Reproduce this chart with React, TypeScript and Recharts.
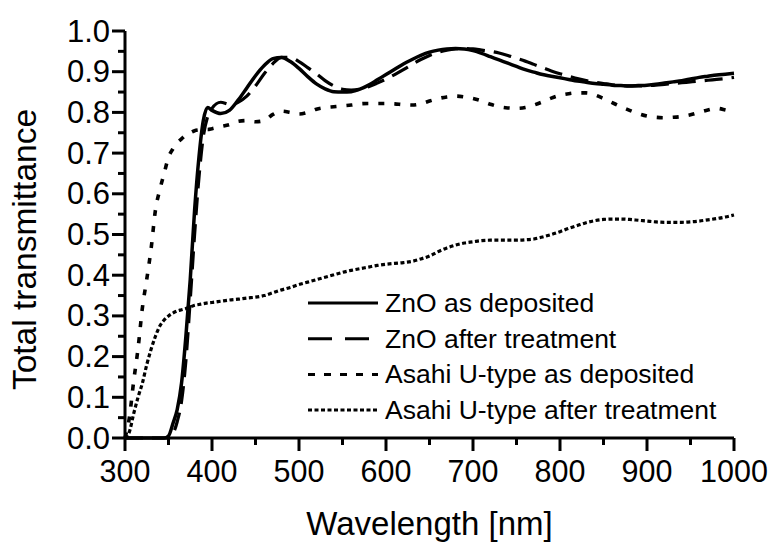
import { LineChart, Line, XAxis, YAxis, Legend, Label } from 'recharts'

// wavelength grid (nm)
const wavelength = [
  300, 305, 310, 315, 320, 325, 330, 335, 340, 345, 350, 355, 360, 365, 370, 375, 380, 385, 390, 395, 400,
  410, 420, 430, 440, 450, 460, 470, 480, 490, 500, 510, 520, 530, 540, 550, 560, 570, 580, 590, 600,
  610, 620, 630, 640, 650, 660, 670, 680, 690, 700, 710, 720, 730, 740, 750, 760, 770, 780, 790, 800,
  810, 820, 830, 840, 850, 860, 870, 880, 890, 900, 910, 920, 930, 940, 950, 960, 970, 980, 990, 1000,
]

const znoDeposited = [
  0, 0, 0, 0, 0, 0, 0, 0, 0, 0, 0.005, 0.035, 0.07, 0.135, 0.25, 0.39, 0.56, 0.69, 0.78, 0.812, 0.805,
  0.797, 0.805, 0.83, 0.86, 0.89, 0.915, 0.932, 0.935, 0.925, 0.908, 0.888, 0.87, 0.858, 0.851, 0.85, 0.851, 0.857, 0.867, 0.88, 0.893,
  0.906, 0.919, 0.93, 0.94, 0.948, 0.953, 0.956, 0.957, 0.956, 0.952, 0.945, 0.937, 0.929, 0.921, 0.913, 0.905, 0.899, 0.893, 0.889, 0.885,
  0.881, 0.877, 0.874, 0.871, 0.869, 0.867, 0.866, 0.865, 0.866, 0.867, 0.869, 0.872, 0.875, 0.878, 0.882, 0.886, 0.889, 0.892, 0.894, 0.896,
]

const znoTreated = [
  0, 0, 0, 0, 0, 0, 0, 0, 0, 0, 0, 0.01, 0.04, 0.09, 0.19, 0.34, 0.5, 0.64, 0.74, 0.79, 0.81,
  0.825, 0.82, 0.825, 0.84, 0.865, 0.895, 0.92, 0.935, 0.935, 0.925, 0.91, 0.895, 0.878, 0.865, 0.857, 0.855, 0.857, 0.863, 0.872, 0.882,
  0.893, 0.905, 0.918, 0.93, 0.94, 0.948, 0.953, 0.956, 0.957, 0.956, 0.953, 0.95, 0.946, 0.94, 0.933, 0.926, 0.918, 0.91, 0.902, 0.895,
  0.889, 0.883, 0.878, 0.874, 0.871, 0.868, 0.866, 0.865, 0.865, 0.866, 0.867, 0.869, 0.871, 0.873, 0.875, 0.877, 0.879, 0.881, 0.883, 0.886,
]

const asahiDeposited = [
  0, 0.05, 0.14, 0.22, 0.32, 0.39, 0.465, 0.56, 0.61, 0.65, 0.69, 0.71, 0.725, 0.735, 0.745, 0.75, 0.755, 0.757, 0.758, 0.758, 0.76,
  0.765, 0.77, 0.778, 0.78, 0.777, 0.78, 0.795, 0.803, 0.8, 0.796, 0.8, 0.808, 0.812, 0.814, 0.816, 0.818, 0.821, 0.822, 0.822, 0.822,
  0.821, 0.819, 0.818, 0.821, 0.828, 0.834, 0.838, 0.84, 0.838, 0.834, 0.828, 0.82, 0.814, 0.811, 0.81, 0.812, 0.818, 0.826, 0.835, 0.842,
  0.846, 0.848, 0.848, 0.843, 0.834, 0.824, 0.814, 0.805, 0.797, 0.791, 0.788, 0.787, 0.788, 0.79, 0.794, 0.8, 0.806, 0.81, 0.806, 0.8,
]

const asahiTreated = [
  0, 0.015, 0.06, 0.1, 0.135, 0.18, 0.218, 0.25, 0.275, 0.29, 0.3, 0.307, 0.312, 0.315, 0.318, 0.322, 0.326, 0.328, 0.33, 0.332, 0.333,
  0.336, 0.339, 0.341, 0.344, 0.346, 0.35, 0.357, 0.364, 0.37, 0.377, 0.383, 0.389, 0.395, 0.401, 0.407, 0.412, 0.416, 0.42, 0.424, 0.427,
  0.429, 0.431, 0.434, 0.44, 0.447, 0.458, 0.467, 0.474, 0.479, 0.482, 0.485, 0.486, 0.486, 0.486, 0.486, 0.487, 0.489, 0.494, 0.5, 0.507,
  0.515, 0.522, 0.529, 0.534, 0.537, 0.538, 0.538, 0.537, 0.535, 0.533, 0.531, 0.53, 0.53, 0.53, 0.531, 0.533, 0.536, 0.539, 0.543, 0.548,
]

const xTicks = [300, 350, 400, 450, 500, 550, 600, 650, 700, 750, 800, 850, 900, 950, 1000]
const yTicks = [
  0, 0.05, 0.1, 0.15, 0.2, 0.25, 0.3, 0.35, 0.4, 0.45, 0.5, 0.55, 0.6, 0.65, 0.7, 0.75, 0.8, 0.85, 0.9, 0.95, 1,
]

const series = [
  { key: 'znoDep', name: 'ZnO as deposited', dash: undefined, width: 3.5, legendDash: undefined },
  { key: 'znoTr', name: 'ZnO after treatment', dash: '18 9', width: 3.2, legendDash: '24 13' },
  { key: 'asDep', name: 'Asahi U-type as deposited', dash: '6 10', width: 3.6, legendDash: '7 9' },
  { key: 'asTr', name: 'Asahi U-type after treatment', dash: '4 2.5', width: 3.2, legendDash: '4 2.5' },
]

const data = wavelength.map((w, i) => ({
  w,
  znoDep: znoDeposited[i],
  znoTr: znoTreated[i],
  asDep: asahiDeposited[i],
  asTr: asahiTreated[i],
}))

const FONT = '"Liberation Sans", Arial, Helvetica, sans-serif'

const isMajorX = (v: number) => v % 100 === 0
const isMajorY = (v: number) => Math.round(v * 100) % 10 === 0

function BottomTick({ x, y, payload }: any) {
  const major = isMajorX(payload.value)
  return (
    <g>
      <line x1={x} x2={x} y1={y} y2={y + (major ? 13 : 7)} stroke="#000" strokeWidth={3} />
      {major && (
        <text x={x} y={y + 44} textAnchor="middle" fontSize={30.5} fontFamily={FONT} fill="#000">
          {payload.value}
        </text>
      )}
    </g>
  )
}

function TopTick({ x, y, payload }: any) {
  const major = isMajorX(payload.value)
  return <line x1={x} x2={x} y1={y} y2={y + (major ? 12 : 6)} stroke="#000" strokeWidth={3} />
}

function LeftTick({ x, y, payload }: any) {
  const major = isMajorY(payload.value)
  return (
    <g>
      <line x1={x} x2={x - (major ? 13 : 7)} y1={y} y2={y} stroke="#000" strokeWidth={3} />
      {major && (
        <text x={x - 15} y={y} textAnchor="end" dominantBaseline="central" fontSize={31} fontFamily={FONT} fill="#000">
          {payload.value.toFixed(1)}
        </text>
      )}
    </g>
  )
}

function RightTick({ x, y, payload }: any) {
  const major = isMajorY(payload.value)
  return <line x1={x} x2={x - (major ? 12 : 7)} y1={y} y2={y} stroke="#000" strokeWidth={3} />
}

function YTitle({ viewBox }: any) {
  const cx = viewBox.x + 24
  const cy = viewBox.y + viewBox.height / 2 + 15
  return (
    <text
      transform={`translate(${cx},${cy}) rotate(-90)`}
      textAnchor="middle"
      dominantBaseline="central"
      fontSize={33.5}
      fontFamily={FONT}
      fill="#000"
    >
      Total transmittance
    </text>
  )
}

function LegendBox() {
  return (
    <svg width={460} height={150} style={{ display: 'block' }}>
      {series.map((s, i) => {
        const cy = 23 + i * 35.7
        return (
          <g key={s.key}>
            <line x1={8} x2={78} y1={cy} y2={cy} stroke="#000" strokeWidth={3} strokeDasharray={s.legendDash} />
            <text x={85} y={cy} dominantBaseline="central" fontSize={26.5} fontFamily={FONT} fill="#000">
              {s.name}
            </text>
          </g>
        )
      })}
    </svg>
  )
}

const axisLine = { stroke: '#000', strokeWidth: 3 }

export default function App() {
  return (
    <div style={{ position: 'absolute', left: 0, top: 0, background: '#fff' }}>
      <LineChart width={774} height={542} data={data} margin={{ top: 31, right: 40, bottom: 0, left: 0 }}>
        <XAxis
          dataKey="w"
          type="number"
          domain={[300, 1000]}
          ticks={xTicks}
          interval={0}
          height={104}
          tickSize={0}
          tickMargin={0}
          axisLine={axisLine}
          tickLine={false}
          tick={<BottomTick />}
        >
          <Label
            value="Wavelength [nm]"
            position="insideBottom"
            offset={7}
            style={{ fontSize: 33, fontFamily: FONT, fill: '#000' }}
          />
        </XAxis>
        <XAxis
          xAxisId="top"
          orientation="top"
          dataKey="w"
          type="number"
          domain={[300, 1000]}
          ticks={xTicks}
          interval={0}
          height={0}
          tickSize={0}
          tickMargin={0}
          axisLine={axisLine}
          tickLine={false}
          tick={<TopTick />}
        />
        <YAxis
          type="number"
          domain={[0, 1]}
          ticks={yTicks}
          interval={0}
          width={125}
          tickSize={0}
          tickMargin={0}
          axisLine={axisLine}
          tickLine={false}
          tick={<LeftTick />}
        >
          <Label content={<YTitle />} />
        </YAxis>
        <YAxis
          yAxisId="right"
          orientation="right"
          type="number"
          domain={[0, 1]}
          ticks={yTicks}
          interval={0}
          width={0}
          tickSize={0}
          tickMargin={0}
          axisLine={axisLine}
          tickLine={false}
          tick={<RightTick />}
        />
        {series.map((s) => (
          <Line
            key={s.key}
            dataKey={s.key}
            name={s.name}
            type="monotone"
            stroke="#000"
            strokeWidth={s.width}
            strokeDasharray={s.dash}
            dot={false}
            activeDot={false}
            isAnimationActive={false}
          />
        ))}
        <Legend
          layout="vertical"
          align="center"
          verticalAlign="middle"
          content={<LegendBox />}
          wrapperStyle={{ left: 300, top: 280, width: 460, height: 150 }}
        />
      </LineChart>
    </div>
  )
}
